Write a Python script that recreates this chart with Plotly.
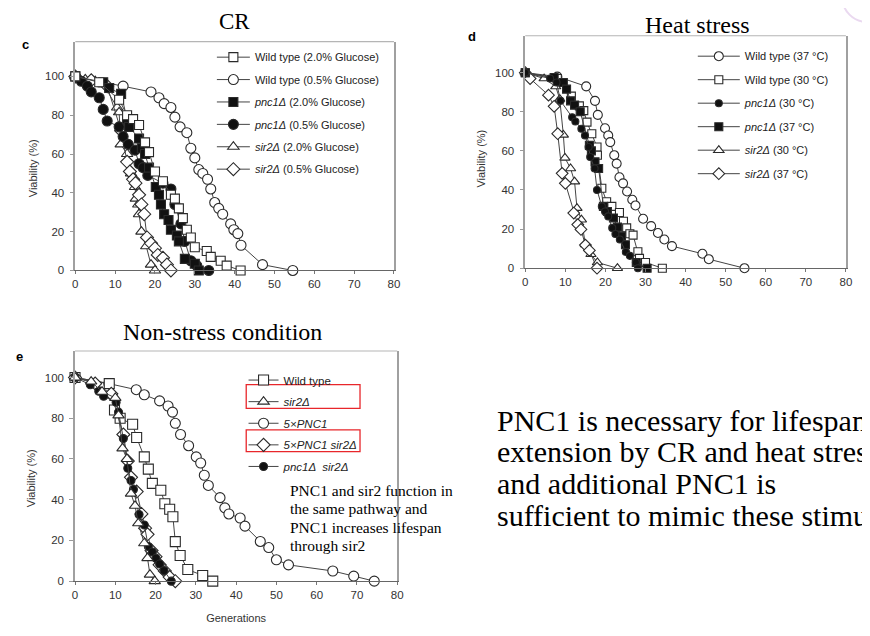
import plotly.graph_objects as go

# ---------------- Panel c (CR) ----------------
c_wt20_x = [0, 6, 11, 13, 14.5, 16, 17.5, 18.5, 20, 22, 24, 25, 26, 27, 28, 29, 30, 33, 34, 36.5, 38, 41.5]
c_wt20_y = [100, 97, 88, 80, 78, 75, 66, 61, 51, 46, 39, 37, 32, 27, 21, 17, 12, 10, 7, 5, 2.5, 0]
c_wt05_x = [0, 12, 19, 21, 22.3, 24, 25, 26.3, 28, 29, 30, 31, 32, 33.2, 34, 35, 36, 37, 39, 39.8, 40.8, 41.6, 47, 54.6]
c_wt05_y = [100, 95, 92, 89, 86, 84, 79, 74, 71, 63, 58, 52, 50, 47, 42, 35, 32, 29, 24, 21, 19, 13, 3, 0]
c_pnc20_x = [0, 7, 8.5, 11.5, 13, 13.5, 16, 16.7, 17.5, 18.5, 20.2, 21, 21.5, 22.3, 23.4, 24, 25.5, 26, 27.5, 30, 31]
c_pnc20_y = [100, 97, 94, 91, 78, 74, 68, 63, 60, 53, 43, 39, 34, 29, 26, 21, 18, 15, 6, 3.5, 0]
c_pnc05_x = [0, 1.5, 3, 4, 6, 7, 8, 11, 12, 13.3, 15, 16, 17, 18.2, 22, 24, 25, 26.5, 27.5, 29, 30.5, 33.5]
c_pnc05_y = [100, 97.5, 95, 92, 89, 83, 77, 74, 69, 65, 62, 55, 53, 49, 45, 42, 34, 24, 15, 5, 2.5, 0]
c_sir20_x = [0, 2.5, 5, 7, 10.5, 11, 11.4, 13, 14, 15, 15.2, 15.8, 16, 16.6, 17.8, 19, 20]
c_sir20_y = [100, 98.5, 97.5, 96, 84, 81.5, 65, 60, 50, 43, 37, 34, 29, 20, 12.5, 3, 0]
c_sir05_x = [0, 4, 8, 11.5, 13, 13.7, 14.5, 15.1, 16, 16.6, 17.3, 18, 19, 20, 20.7, 22, 23, 24]
c_sir05_y = [100, 98, 95, 72, 56, 51, 47, 45, 39, 34, 29, 17, 14, 11.5, 8, 6.5, 3, 0]

# ---------------- Panel d (Heat stress) ----------------
d_wt37_x = [0, 8, 15.2, 17.4, 18.1, 19.9, 20.7, 21.2, 22.2, 22.8, 23.5, 24.4, 25.4, 26.7, 27.5, 29.4, 31.4, 33.1, 34.7, 36.6, 44.2, 45.8, 54.7]
d_wt37_y = [100, 98, 93, 85.6, 78.4, 71.6, 67.9, 64.5, 57.8, 53.5, 46.5, 43.4, 39.2, 35, 32.1, 25.3, 21.5, 18, 14.7, 11.3, 7.4, 4.6, 0]
d_wt30_x = [0, 8, 11.5, 13.5, 14.6, 15.4, 16.6, 17.9, 18, 19.1, 20.3, 21.6, 23.5, 24.5, 25.3, 26.1, 26.9, 28.1, 28.5, 30, 34.2]
d_wt30_y = [100, 97, 88, 83, 80.6, 74.7, 68.8, 62, 57.8, 40.9, 34, 31.6, 28.5, 24, 20.6, 17.6, 16.9, 8.4, 5, 2.9, 0]
d_pnc30_x = [0, 6.2, 7.8, 8.8, 11.7, 12.5, 14, 14.9, 15.8, 16.2, 17.3, 17.9, 19.1, 19.9, 20.7, 21.7, 22.5, 23.6, 25.1, 26.1, 27.6, 28.1]
d_pnc30_y = [100, 97, 95, 85.6, 77.2, 75, 71.3, 67.9, 62, 56.9, 51, 40, 31.6, 29, 26.5, 20.6, 17.5, 14.7, 8.3, 6.3, 2.9, 0]
d_pnc37_x = [0, 7.2, 9.5, 10.3, 11.3, 12.3, 13.7, 16, 16.5, 17.4, 18.3, 19.5, 20.5, 22, 23, 24, 25, 27.7, 30.4]
d_pnc37_y = [100, 97.5, 95, 91.6, 85.6, 83.4, 80, 62.8, 60, 54.4, 51, 31.6, 29, 25.7, 21, 16.4, 12, 2.9, 0]
d_sir30_x = [0, 4.7, 7.6, 8.6, 9.5, 9.9, 11.3, 12.3, 12.9, 14, 15, 16.4, 18, 23]
d_sir30_y = [100, 97, 92.9, 86.5, 68.2, 56.4, 51, 44.3, 30.7, 24.8, 12.2, 7.1, 2.9, 0]
d_sir37_x = [0, 1.2, 5.8, 7.2, 8.1, 9.2, 10, 12.1, 13.1, 13.9, 15, 16, 17.9]
d_sir37_y = [100, 97, 88.5, 82.8, 68.8, 48.5, 43.4, 28.2, 22.3, 19.8, 11.8, 9.1, 0]

# ---------------- Panel e (Non-stress) ----------------
e_wt_x = [0, 8.5, 9.8, 11.2, 14.3, 15.3, 17.2, 18.2, 19.2, 21.3, 22.3, 23.5, 24.3, 24.9, 26.1, 28, 31.7, 34.2]
e_wt_y = [100, 97, 84, 80, 77, 70.5, 61, 55, 48, 44.6, 38, 35.3, 31.6, 19.4, 12.6, 5.7, 2.8, 0]
e_sir_x = [0, 4, 6.7, 10, 10.8, 11.8, 12.9, 13.9, 14.9, 15.7, 17.2, 18, 18.6, 19.8]
e_sir_y = [100, 98, 93, 90, 81.4, 65.2, 60, 43, 37, 28.4, 18.6, 11.3, 3.2, 0]
e_pnc5_x = [0, 8.4, 15.2, 17.2, 21, 23.1, 24.2, 24.9, 26.2, 28.2, 30.1, 31.2, 32.1, 33.1, 36, 37.2, 38.2, 41, 42.2, 46, 48.1, 50, 53, 64, 69.2, 74.3]
e_pnc5_y = [100, 97, 94, 91.5, 88.5, 86, 83, 77.5, 72, 66.5, 61, 58, 52, 47, 41, 36, 33, 31, 27, 19.5, 16.5, 10.5, 8, 5, 2.5, 0]
e_pnc5sir_x = [0, 5, 9, 12, 13.1, 13.9, 15.3, 16.5, 17.4, 18, 19, 20, 21, 22.3, 23.5, 24.9]
e_pnc5sir_y = [100, 97, 92, 72, 59, 51, 44, 33, 26, 23, 15, 12, 8, 5, 2, 0]
e_pncsir_x = [0, 3.8, 5.9, 7.1, 10.2, 10.8, 12, 13.1, 13.9, 14.5, 15.9, 17.2, 18.2, 19.2, 20.1, 21, 22.1, 23.9]
e_pncsir_y = [100, 96.4, 93.2, 90.8, 87.8, 83, 70, 55.4, 49.4, 45, 32.7, 27.6, 17, 14.3, 11.3, 8.4, 5.2, 0]

x_ticks = [0, 10, 20, 30, 40, 50, 60, 70, 80]
y_ticks = [0, 20, 40, 60, 80, 100]

# The page body has an 8px margin; work in window pixels and convert.
OFF = 8
W, H = 862, 628
SANS = "Liberation Sans, Arial, sans-serif"
SERIF = "Liberation Serif, Times New Roman, serif"
LINE = "#444444"
EDGE = "#2a2a2a"


def px(x):
    return (x - OFF) / W


def py(y):
    return 1 - (y - OFF) / H


fig = go.Figure()


def add(xs, ys, name, symbol, filled, size, xa, ya, leg, rank):
    fig.add_trace(go.Scatter(
        x=xs, y=ys, name=name, mode="lines+markers",
        xaxis=xa, yaxis=ya, legend=leg, legendgroup=f"{leg}_{rank}", legendrank=rank,
        cliponaxis=False,
        line=dict(color=LINE, width=1),
        marker=dict(symbol=symbol, size=size,
                    color="#111111" if filled else "white",
                    line=dict(color=EDGE, width=1.1)),
    ))


# panel c
add(c_wt05_x, c_wt05_y, "Wild type (0.5% Glucose)", "circle", False, 10, "x", "y", "legend", 2)
add(c_sir20_x, c_sir20_y, "<i>sir2Δ</i> (2.0% Glucose)", "triangle-up", False, 10, "x", "y", "legend", 5)
add(c_sir05_x, c_sir05_y, "<i>sir2Δ</i> (0.5% Glucose)", "diamond", False, 10, "x", "y", "legend", 6)
add(c_pnc05_x, c_pnc05_y, "<i>pnc1Δ</i> (0.5% Glucose)", "circle", True, 10, "x", "y", "legend", 4)
add(c_pnc20_x, c_pnc20_y, "<i>pnc1Δ</i> (2.0% Glucose)", "square", True, 9, "x", "y", "legend", 3)
add(c_wt20_x, c_wt20_y, "Wild type (2.0% Glucose)", "square", False, 9, "x", "y", "legend", 1)

# panel d
add(d_wt37_x, d_wt37_y, "Wild type (37 °C)", "circle", False, 9, "x2", "y2", "legend2", 1)
add(d_sir30_x, d_sir30_y, "<i>sir2Δ</i> (30 °C)", "triangle-up", False, 9, "x2", "y2", "legend2", 5)
add(d_sir37_x, d_sir37_y, "<i>sir2Δ</i> (37 °C)", "diamond", False, 9, "x2", "y2", "legend2", 6)
add(d_wt30_x, d_wt30_y, "Wild type (30 °C)", "square", False, 8, "x2", "y2", "legend2", 2)
add(d_pnc37_x, d_pnc37_y, "<i>pnc1Δ</i> (37 °C)", "square", True, 8, "x2", "y2", "legend2", 4)
add(d_pnc30_x, d_pnc30_y, "<i>pnc1Δ</i> (30 °C)", "circle", True, 7, "x2", "y2", "legend2", 3)

# panel e
add(e_pnc5_x, e_pnc5_y, "<i>5×PNC1</i>", "circle", False, 10, "x3", "y3", "legend3", 3)
add(e_wt_x, e_wt_y, "Wild type", "square", False, 10, "x3", "y3", "legend3", 1)
add(e_pnc5sir_x, e_pnc5sir_y, "<i>5×PNC1 sir2Δ</i>", "diamond", False, 10, "x3", "y3", "legend3", 4)
add(e_pncsir_x, e_pncsir_y, "<i>pnc1Δ  sir2Δ</i>", "circle", True, 8, "x3", "y3", "legend3", 5)
add(e_sir_x, e_sir_y, "<i>sir2Δ</i>", "triangle-up", False, 10, "x3", "y3", "legend3", 2)


def xaxis(dom, anchor, title=None):
    d = dict(domain=dom, anchor=anchor, range=[0, 80], tickvals=x_ticks,
             showline=True, linecolor="#666666", linewidth=1, mirror=False,
             ticks="outside", ticklen=3, tickcolor="#777777",
             showgrid=False, zeroline=False,
             tickfont=dict(family=SANS, size=11.5, color="#333333"))
    if title:
        d["title"] = dict(text=title, font=dict(family=SANS, size=11, color="#333333"), standoff=14)
    return d


def yaxis(dom, anchor, top):
    return dict(domain=dom, anchor=anchor, range=[0, top], tickvals=y_ticks,
                showline=True, linecolor="#a0a0a0", linewidth=1.5, mirror=True,
                ticks="outside", ticklen=4, tickcolor="#999999", ticklabelstandoff=3,
                showgrid=False, zeroline=False,
                tickfont=dict(family=SANS, size=11.5, color="#333333"))


legend_common = dict(bgcolor="rgba(0,0,0,0)", borderwidth=0, xanchor="left", yanchor="top",
                     traceorder="grouped", itemclick=False)

fig.update_layout(
    width=W, height=H, margin=dict(l=0, r=0, t=0, b=0),
    paper_bgcolor="white", plot_bgcolor="white", showlegend=True,
    xaxis=xaxis([px(73), px(395)], "y"),
    yaxis=yaxis([py(273), py(42)], "x", 117.9),
    xaxis2=xaxis([px(527.7), px(851.7)], "y2"),
    yaxis2=yaxis([py(270.7), py(36)], "x2", 118.9),
    xaxis3=xaxis([px(72.7), px(398.3)], "y3", "Generations"),
    yaxis3=yaxis([py(586.7), py(354.3)], "x3", 113),
    legend=dict(legend_common, x=px(211), y=py(43), tracegroupgap=3.4, itemwidth=33,
                font=dict(family=SANS, size=11, color="#222222")),
    legend2=dict(legend_common, x=px(697), y=py(42), tracegroupgap=4.5, itemwidth=42,
                 font=dict(family=SANS, size=11, color="#222222")),
    legend3=dict(legend_common, x=px(243), y=py(369), tracegroupgap=2.6,
                 font=dict(family=SANS, size=11.5, color="#222222")),
)

# top frame lines (light)
for xr, yr in [("x", "y"), ("x2", "y2"), ("x3", "y3")]:
    fig.add_shape(type="line", xref=f"{xr} domain", yref=f"{yr} domain",
                  x0=0, x1=1, y0=1, y1=1, line=dict(color="#b5b5b5", width=1.2))

# red highlight boxes in panel e legend
for y0, y1 in [(388.3, 412.3), (434, 456)]:
    fig.add_shape(type="rect", xref="paper", yref="paper",
                  x0=px(245.7), x1=px(360.7), y0=py(y1), y1=py(y0),
                  line=dict(color="#e8262b", width=1.3))

# faint logo at top-right corner
fig.add_shape(type="circle", xref="paper", yref="paper",
              x0=px(848), x1=px(898), y0=py(22), y1=py(-28),
              line=dict(color="#ead9f0", width=2))

ann = []
# titles
ann.append(dict(text="CR", x=px(234), y=py(21.5), font=dict(family=SERIF, size=23, color="black")))
ann.append(dict(text="Heat stress", x=px(702), y=py(25), font=dict(family=SERIF, size=24, color="black")))
ann.append(dict(text="Non-stress condition", x=px(222), y=py(335), font=dict(family=SERIF, size=24, color="black")))
# panel letters
for t, x, y in [("c", 23, 45), ("d", 474, 37), ("e", 17, 360)]:
    ann.append(dict(text=f"<b>{t}</b>", x=px(x), y=py(y), font=dict(family=SANS, size=13, color="black")))
# y-axis titles
for x, y in [(31, 170), (482, 160), (29, 483)]:
    ann.append(dict(text="Viability (%)", x=px(x), y=py(y), textangle=-90,
                    font=dict(family=SANS, size=11, color="#333333")))
# note in panel e
note_lines = ["PNC1 and sir2 function in", "the same pathway and", "PNC1 increases lifespan", "through sir2"]
for i, t in enumerate(note_lines):
    ann.append(dict(text=t, x=px(289), y=py(495 + i * 18.7), xanchor="left",
                    font=dict(family=SERIF, size=15.5, color="black")))
# conclusion text
concl = ["PNC1 is necessary for lifespan", "extension by CR and heat stress",
         "and additional PNC1 is", "sufficient to mimic these stimuli"]
for i, t in enumerate(concl):
    ann.append(dict(text=t, x=px(498), y=py(424 + i * 32), xanchor="left",
                    font=dict(family=SERIF, size=30, color="black")))

for a in ann:
    a.setdefault("xanchor", "center")
    a.update(xref="paper", yref="paper", yanchor="middle", showarrow=False, borderpad=0)
    fig.add_annotation(**a)

fig.write_html("out.html")
